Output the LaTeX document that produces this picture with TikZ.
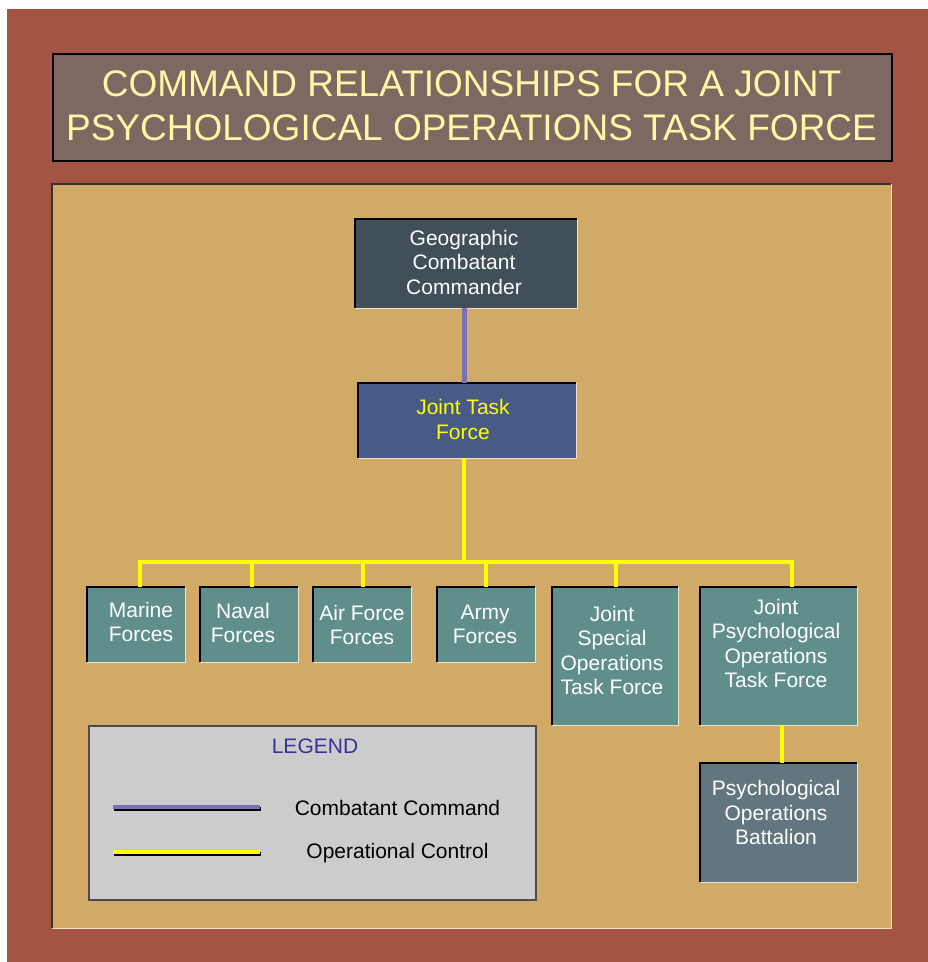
\documentclass[tikz,border=0pt]{standalone}
\usepackage{fontspec}
\setmainfont{Liberation Sans}
\usetikzlibrary{calc}
\definecolor{frame}{HTML}{A35442}
\definecolor{titlebg}{HTML}{7D6862}
\definecolor{titletx}{HTML}{FFF6A6}
\definecolor{panel}{HTML}{D2AA68}
\definecolor{gccbg}{HTML}{414F58}
\definecolor{jtfbg}{HTML}{485B87}
\definecolor{teal}{HTML}{5F8E8B}
\definecolor{bnbg}{HTML}{62767F}
\definecolor{legbg}{HTML}{CCCCCC}
\definecolor{cmdline}{HTML}{7B70B5}
\definecolor{opline}{HTML}{FFFF00}
\definecolor{legtitle}{HTML}{333399}
\definecolor{lightedge}{HTML}{F2E2C8}
\newcommand\bevbox[1]{%
  \draw[edgedark] (#1.south west) -- (#1.north west) -- (#1.north east);
  \draw[edgelight] (#1.north east) -- (#1.south east) -- (#1.south west);}
\tikzset{
  edgedark/.style={draw=black, line width=1.5pt},
  edgelight/.style={draw=lightedge, line width=1.2pt},
  box/.style={rectangle, inner sep=0pt, anchor=north west},
  lbl/.style={inner sep=0pt, align=center, font=\fontsize{21}{24.5}\selectfont},
  cmd/.style={draw=cmdline, line width=5pt},
  opcon/.style={draw=opline, line width=4.5pt},
}
\begin{document}
\begin{tikzpicture}[x=1pt, y=-1pt]
\useasboundingbox (0,0) rectangle (928,962);
\fill[white] (0,0) rectangle (928,962);
\fill[frame] (7,9) rectangle (928,962);
% title
\node[box, fill=titlebg, draw=black, line width=1.5pt, minimum width=839pt, minimum height=107pt] (title) at (52,53) {};
\node[lbl, text=titletx, font=\fontsize{37}{44}\selectfont] (titletext) at (471.5,106)
  {COMMAND RELATIONSHIPS FOR A JOINT\\PSYCHOLOGICAL OPERATIONS TASK FORCE};
% panel
\node[box, fill=panel, minimum width=839pt, minimum height=744pt] (panel) at (52,184) {};
\draw[draw=black!80, line width=1.5pt] (panel.south west) -- (panel.north west) -- (panel.north east);
\draw[draw=lightedge, line width=1.5pt] (panel.north east) -- (panel.south east) -- (panel.south west);
% boxes
\node[box, fill=gccbg, minimum width=222pt, minimum height=89pt] (gcc) at (355,219) {};
\node[box, fill=jtfbg, minimum width=218pt, minimum height=75pt] (jtf) at (358,383) {};
\node[box, fill=teal, minimum width=98pt, minimum height=75pt] (mar) at (87,587) {};
\node[box, fill=teal, minimum width=98pt, minimum height=75pt] (nav) at (200,587) {};
\node[box, fill=teal, minimum width=98pt, minimum height=75pt] (air) at (313,587) {};
\node[box, fill=teal, minimum width=98pt, minimum height=75pt] (army) at (437,587) {};
\node[box, fill=teal, minimum width=126pt, minimum height=138pt] (jsotf) at (552,587) {};
\node[box, fill=teal, minimum width=157pt, minimum height=138pt] (jpotf) at (700,587) {};
\node[box, fill=bnbg, minimum width=157pt, minimum height=119pt] (bn) at (700,763) {};
\foreach \n in {gcc,jtf,mar,nav,air,army,jsotf,jpotf,bn}{\bevbox{\n}}
% connectors
\draw[cmd] ([xshift=-2pt]gcc.south) -- ([xshift=-2pt]gcc.south |- jtf.north);
\coordinate (busL) at (140,562);
\coordinate (busR) at (792,562);
\draw[opcon] ([xshift=-3pt]jtf.south) -- ([xshift=-3pt]jtf.south |- busL);
\draw[opcon, line cap=rect] (busL) -- (busR);
\draw[opcon] ([xshift=4pt]mar.north) -- ([xshift=4pt]mar.north |- busL);
\draw[opcon] ([xshift=3pt]nav.north) -- ([xshift=3pt]nav.north |- busL);
\draw[opcon] ([xshift=1pt]air.north) -- ([xshift=1pt]air.north |- busL);
\draw[opcon] (army.north) -- (army.north |- busL);
\draw[opcon] ([xshift=1pt]jsotf.north) -- ([xshift=1pt]jsotf.north |- busL);
\draw[opcon] ([xshift=13.5pt]jpotf.north) -- ([xshift=13.5pt]jpotf.north |- busL);
\draw[opcon] ([xshift=3.5pt]jpotf.south) -- ([xshift=3.5pt]bn.north);
% box texts
\node[lbl, text=white] (gcct) at (464,262) {Geographic\\Combatant\\Commander};
\node[lbl, text=opline] (jtft) at (463,419.5) {Joint Task\\Force};
\node[lbl, text=white] (mart) at (141,622) {Marine\\Forces};
\node[lbl, text=white] (navt) at (243,623) {Naval\\Forces};
\node[lbl, text=white] (airt) at (362,625) {Air Force\\Forces};
\node[lbl, text=white] (armyt) at (485,624.5) {Army\\Forces};
\node[lbl, text=white] (jsotft) at (612,650.5) {Joint\\Special\\Operations\\Task Force};
\node[lbl, text=white] (jpotft) at (776,643.5) {Joint\\Psychological\\Operations\\Task Force};
\node[lbl, text=white] (bnt) at (776,812.5) {Psychological\\Operations\\Battalion};
% legend
\node[box, fill=legbg, draw=black!70, line width=1.5pt, minimum width=447pt, minimum height=174pt] (legend) at (88,725) {};
\node[lbl, text=legtitle] (legt) at (315,746) {LEGEND};
\coordinate (l1a) at (113,807);
\coordinate (l1b) at (260,807);
\coordinate (l2a) at (113,852);
\coordinate (l2b) at (260,852);
\draw[black, line width=4pt] ([shift={(1,1.5)}]l1a) -- ([shift={(1,1.5)}]l1b);
\draw[cmdline, line width=4pt] (l1a) -- (l1b);
\draw[black, line width=4pt] ([shift={(1,1.5)}]l2a) -- ([shift={(1,1.5)}]l2b);
\draw[opline, line width=4pt] (l2a) -- (l2b);
\node[lbl, text=black] (cc) at (397.5,808) {Combatant Command};
\node[lbl, text=black] (oc) at (397.5,853) {Operational Control};
\end{tikzpicture}
\end{document}
